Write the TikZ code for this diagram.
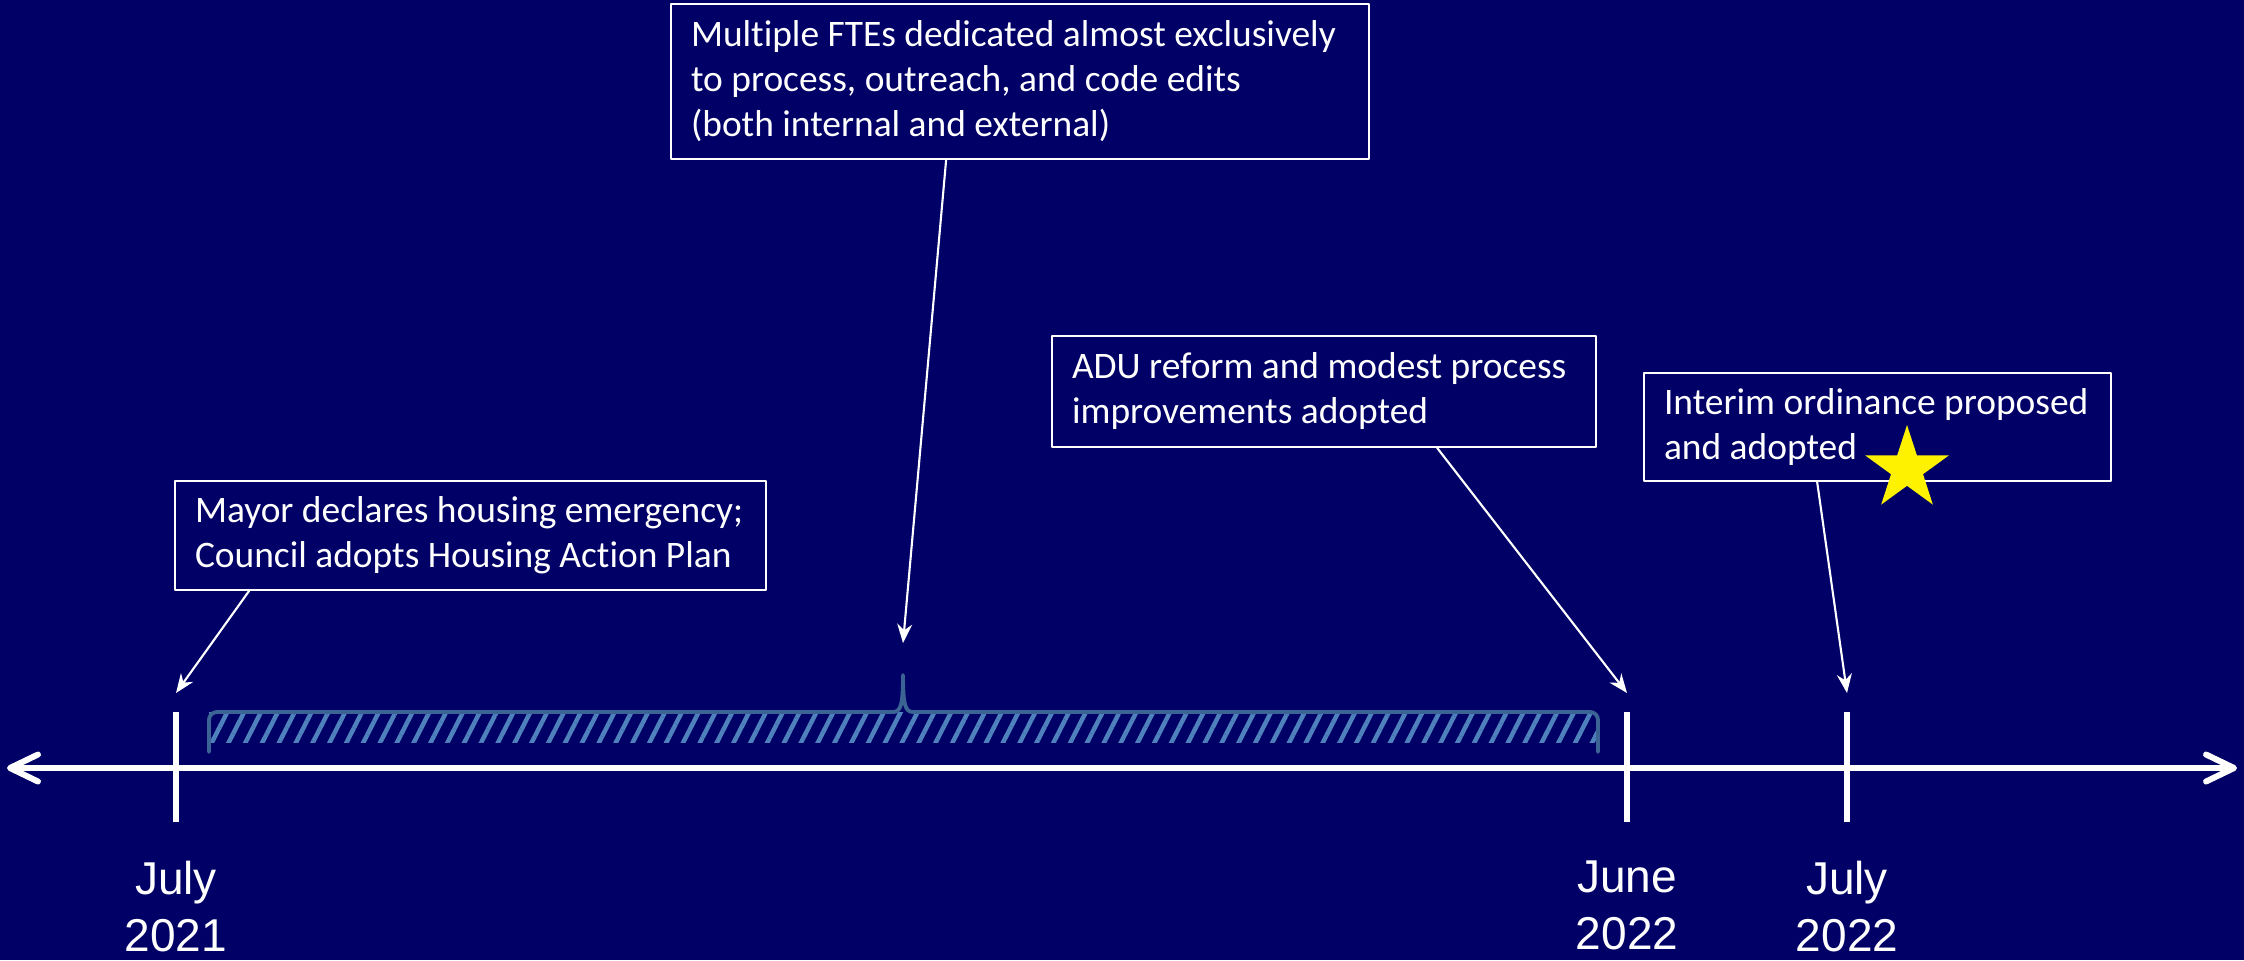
\documentclass[tikz,border=0pt]{standalone}
\usepackage{fontspec}
\setmainfont{Carlito}[Ligatures=NoCommon]
\newfontfamily\datefont{Liberation Sans}
\usetikzlibrary{arrows.meta,patterns.meta,shapes.geometric}
\definecolor{navy}{RGB}{0,0,102}
\definecolor{braceline}{RGB}{59,100,148}
\definecolor{hatch}{RGB}{79,129,189}
\begin{document}
\begin{tikzpicture}[line join=round, line cap=round,
	box/.style={draw=white, line width=0.5pt, text=white, align=flush left, inner xsep=0.2cm, inner ysep=0pt, font=\fontsize{10.65}{12.8}\selectfont},
	date/.style={text=white, align=center, anchor=north, inner sep=0pt, font=\datefont\fontsize{13.1}{16.2}\selectfont},
	tick/.style={white, line width=1.7pt, line cap=butt},
	pointer/.style={white, line width=0.6pt, -{Stealth[length=0.19cm,width=0.15cm]}}]
		\fill[navy] (0,0) rectangle (22.44,9.6);
		\useasboundingbox (0,0) rectangle (22.44,9.6);
		%	\draw[help lines] (0,0) grid (22,9);
		\draw[white, line width=1.7pt, {Straight Barb[round,length=0.28cm,width=0.27cm]}-{Straight Barb[round,length=0.28cm,width=0.27cm]}] (0.07,1.92)--(22.37,1.92);
		\foreach \x/\name/\m/\yr in {1.76/jul21/July/2021, 16.27/jun22/June/2022, 18.47/jul22/July/2022}{
			\draw[tick] (\x,1.38)--(\x,2.48);
			\coordinate (\name) at (\x,2.67);
			\node[date] (d\name) at (\x,1.00) {\m\\\yr};
		}
		\coordinate (ftetip) at (9.03,3.17);
		\fill[pattern={Lines[angle=63,distance=0.15cm,line width=0.045cm]}, pattern color=hatch] (2.09,2.18) rectangle (15.98,2.48);
		\draw[braceline, line width=1.1pt] (2.09,2.08)--(2.09,2.40) arc[start angle=180,end angle=90,radius=0.08]--(8.93,2.48) .. controls (9.01,2.48) and (9.03,2.56) .. (9.03,2.85) .. controls (9.03,2.56) and (9.05,2.48) .. (9.13,2.48)--(15.90,2.48) arc[start angle=90,end angle=0,radius=0.08]--(15.98,2.08);
		\node[box, text width=6.58cm, minimum height=1.55cm] (fte) at (10.20,8.785) {Multiple FTEs dedicated almost exclusively\\to process, outreach, and code edits\\(both internal and external)};
		\node[box, text width=5.51cm, minimum height=1.09cm] (mayor) at (4.705,4.245) {Mayor declares housing emergency;\\Council adopts Housing Action Plan};
		\node[box, text width=5.04cm, minimum height=1.11cm] (adu) at (13.24,5.685) {ADU reform and modest process\\improvements adopted};
		\node[box, text width=4.27cm, minimum height=1.08cm] (interim) at (18.775,5.33) {Interim ordinance proposed\\and adopted};
		\node[star, star points=5, star point ratio=2.618, fill=yellow, minimum size=0.88cm, inner sep=0pt] (goldstar) at (19.07,4.91) {};
		\draw[pointer] ([xshift=0.75cm]mayor.south west)--(jul21);
		\draw[pointer] ([xshift=2.76cm]fte.south west)--(ftetip);
		\draw[pointer] ([xshift=3.86cm]adu.south west)--(jun22);
		\draw[pointer] ([xshift=1.74cm]interim.south west)--(jul22);
\end{tikzpicture}
\end{document}
